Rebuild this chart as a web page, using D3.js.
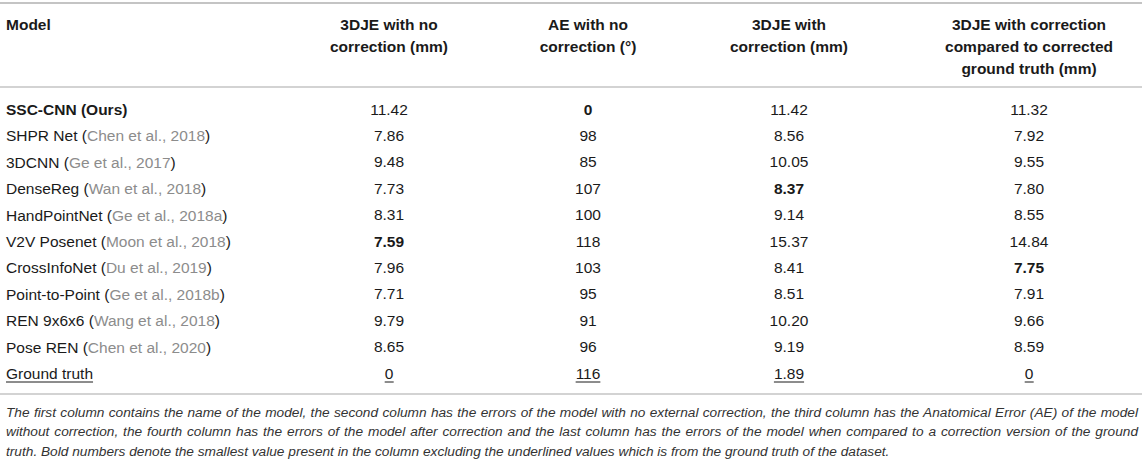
<!DOCTYPE html>
<html>
<head>
<meta charset="utf-8">
<script src="https://cdn.jsdelivr.net/npm/d3@7"></script>
<style>
  body { margin: 0; background: #fff; }
  svg text { font-family: "Liberation Sans", Arial, sans-serif; fill: #1a1a1a; }
</style>
</head>
<body>
<div id="table"></div>
<script>
var svgWidth = 1142;
var svgHeight = 462;

// table data
var models = ["SSC-CNN (Ours)", "SHPR Net", "3DCNN", "DenseReg", "HandPointNet", "V2V Posenet",
    "CrossInfoNet", "Point-to-Point", "REN 9x6x6", "Pose REN", "Ground truth"];
var citations = ["", "Chen et al., 2018", "Ge et al., 2017", "Wan et al., 2018", "Ge et al., 2018a",
    "Moon et al., 2018", "Du et al., 2019", "Ge et al., 2018b", "Wang et al., 2018", "Chen et al., 2020", ""];
var noCorrection = [11.42, 7.86, 9.48, 7.73, 8.31, 7.59, 7.96, 7.71, 9.79, 8.65, 0];
var aeNoCorrection = [0, 98, 85, 107, 100, 118, 103, 95, 91, 96, 116];
var withCorrection = [11.42, 8.56, 10.05, 8.37, 9.14, 15.37, 8.41, 8.51, 10.20, 9.19, 1.89];
var vsCorrectedTruth = [11.32, 7.92, 9.55, 7.80, 8.55, 14.84, 7.75, 7.91, 9.66, 8.59, 0];

var headers = [
    ["3DJE with no", "correction (mm)"],
    ["AE with no", "correction (°)"],
    ["3DJE with", "correction (mm)"],
    ["3DJE with correction", "compared to corrected", "ground truth (mm)"]
];
var caption = [
    "The first column contains the name of the model, the second column has the errors of the model with no external correction, the third column has the Anatomical Error (AE) of the model",
    "without correction, the fourth column has the errors of the model after correction and the last column has the errors of the model when compared to a correction version of the ground",
    "truth. Bold numbers denote the smallest value present in the column excluding the underlined values which is from the ground truth of the dataset."
];

var columns = [
    { values: noCorrection, fmt: d3.format(".2f") },
    { values: aeNoCorrection, fmt: d3.format("d") },
    { values: withCorrection, fmt: d3.format(".2f") },
    { values: vsCorrectedTruth, fmt: d3.format(".2f") }
];

var svg = d3.select("#table")
    .append("svg")
    .attr("width", svgWidth)
    .attr("height", svgHeight);

// row positions
var y = d3.scalePoint()
    .domain(d3.range(models.length))
    .range([109, 373]);

// column centres (not evenly spaced)
var x = d3.scaleOrdinal()
    .domain(d3.range(columns.length))
    .range([389, 588, 789, 1029]);

var left = 6;
var fontSize = 15.5;

// rules
[3, 87, 394].forEach(function(ry, i) {
    svg.append("line")
        .attr("x1", 0)
        .attr("x2", svgWidth)
        .attr("y1", ry)
        .attr("y2", ry)
        .attr("stroke", "#c4c4c4")
        .attr("stroke-width", i === 0 ? 2 : 1.5);
});

// header
var headerGroup = svg.append("g")
    .attr("font-weight", "bold")
    .attr("font-size", fontSize);

headerGroup.append("text")
    .attr("x", left)
    .attr("y", 24)
    .attr("dominant-baseline", "central")
    .text("Model");

headers.forEach(function(lines, c) {
    headerGroup.selectAll(".h" + c)
        .data(lines)
        .enter()
        .append("text")
        .attr("x", x(c))
        .attr("y", (d, i) => 24 + i * 22)
        .attr("text-anchor", "middle")
        .attr("dominant-baseline", "central")
        .text(d => d);
});

var last = models.length - 1;
var underlined = [];

// model names
svg.selectAll(".model")
    .data(models)
    .enter()
    .append("text")
    .attr("class", "model")
    .attr("x", left)
    .attr("y", (d, i) => y(i))
    .attr("dominant-baseline", "central")
    .attr("font-size", fontSize)
    .attr("font-weight", (d, i) => i === 0 ? "bold" : null)
    .each(function(d, i) {
        var t = d3.select(this);
        t.append("tspan").text(d);
        if (citations[i] !== "") {
            t.append("tspan").text(" (");
            t.append("tspan").style("fill", "#8c8c8c").text(citations[i]);
            t.append("tspan").text(")");
        }
        if (i === last) underlined.push(this);
    });

// value cells
columns.forEach(function(col, c) {
    var best = d3.min(col.values.slice(0, last));
    svg.selectAll(".v" + c)
        .data(col.values)
        .enter()
        .append("text")
        .attr("class", "v" + c)
        .attr("x", x(c))
        .attr("y", (d, i) => y(i))
        .attr("text-anchor", "middle")
        .attr("dominant-baseline", "central")
        .attr("font-size", fontSize)
        .attr("font-weight", (d, i) => (i < last && d === best) ? "bold" : null)
        .text((d, i) => i === last && d === 0 ? "0" : col.fmt(d))
        .each(function(d, i) { if (i === last) underlined.push(this); });
});

// underline the ground truth row
underlined.forEach(function(node) {
    var b = node.getBBox();
    svg.append("line")
        .attr("x1", b.x)
        .attr("x2", b.x + b.width)
        .attr("y1", y(last) + 9)
        .attr("y2", y(last) + 9)
        .attr("stroke", "#1a1a1a")
        .attr("stroke-width", 1);
});

// caption, justified except the last line
var captionRight = 1138;
svg.append("g")
    .attr("font-size", 13.7)
    .attr("font-style", "italic")
    .selectAll("text")
    .data(caption)
    .enter()
    .append("text")
    .attr("x", left)
    .attr("y", (d, i) => 412 + i * 19.5)
    .attr("dominant-baseline", "central")
    .style("fill", "#333")
    .text(d => d)
    .each(function(d, i) {
        if (i === caption.length - 1) return;
        var gaps = d.split(" ").length - 1;
        var extra = (captionRight - left - this.getComputedTextLength()) / gaps;
        d3.select(this).attr("word-spacing", extra);
    });
</script>
</body>
</html>
